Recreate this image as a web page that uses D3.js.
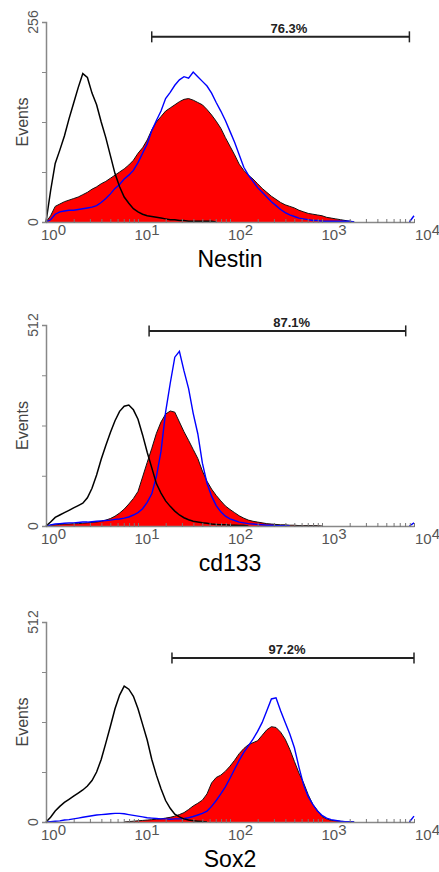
<!DOCTYPE html>
<html>
<head>
<meta charset="utf-8">
<title>Flow cytometry histograms</title>
<script src="https://cdn.jsdelivr.net/npm/d3@7"></script>
<style>
  body { margin: 0; background: #fff; }
  svg { display: block; font-family: Arial, "Liberation Sans", sans-serif; }
</style>
</head>
<body>
<svg></svg>
<script>
const WIDTH = 439;
const HEIGHT = 872;

// bins: 20 channels per decade, 10^0 .. 10^4
const channels = d3.range(81).map(i => Math.pow(10, i / 20));

const titles = ["Nestin", "cd133", "Sox2"];
const yMax = [256, 512, 512];
const decadeExp = ["0", "1", "2", "3", "4"];

// gate markers (fluorescence from / to, height in events, label position)
const gateLabels = ["76.3%", "87.1%", "97.2%"];
const gateFrom = [14.1, 13.2, 23.4];
const gateTo = [8913, 8128, 10000];
const gateLevel = [237, 497, 420];
const gateTextAt = [437, 468, 417];

// event counts per channel
const nestinControl = [0, 40, 75, 92, 110, 132, 152, 172, 190, 185, 165, 150, 128, 108, 85, 62, 45, 32, 24, 17,
  13, 10, 8, 7, 6, 5, 4, 3, 3, 2, 2, 1, 1, 1, 1, 1, 1, 0, 0, 0,
  0, 0, 0, 0, 0, 0, 0, 0, 0, 0, 0, 0, 0, 0, 0, 0, 0, 0, 0, 0,
  0, 0, 0, 0, 0, 0, 0, 0, 0, 0, 0, 0, 0, 0, 0, 0, 0, 0, 0, 0, 0];
const nestinSample = [0, 8, 20, 23, 26, 28, 30, 32, 35, 38, 42, 45, 49, 52, 56, 60, 64, 68, 73, 79,
  88, 95, 105, 118, 128, 135, 142, 146, 150, 154, 157, 158, 156, 153, 150, 144, 137, 129, 120, 108,
  97, 86, 74, 66, 60, 55, 49, 43, 38, 33, 29, 25, 22, 20, 18, 15, 13, 11, 10, 9,
  8, 6, 5, 4, 3, 2, 1, 0, 0, 0, 0, 0, 0, 0, 0, 0, 0, 0, 0, 0, 0];
const nestinOverlay = [0, 3, 10, 13, 14, 15, 15, 16, 17, 18, 19, 21, 25, 30, 36, 43, 48, 55, 60, 66,
  76, 88, 100, 117, 130, 142, 158, 166, 175, 182, 186, 184, 192, 186, 180, 174, 165, 153, 142, 130,
  116, 102, 86, 70, 60, 52, 44, 38, 32, 26, 21, 16, 12, 9, 7, 5, 4, 3, 2, 2,
  1, 1, 1, 1, 1, 1, 1, 0, 0, 0, 0, 0, 0, 0, 0, 0, 0, 0, 0, 0, 8];

const cd133Control = [0, 10, 22, 28, 34, 40, 46, 52, 58, 72, 96, 130, 170, 205, 238, 268, 292, 305, 308, 296,
  272, 232, 188, 148, 108, 84, 64, 50, 38, 28, 21, 16, 12, 10, 8, 7, 5, 4, 3, 3,
  2, 2, 1, 1, 0, 0, 0, 0, 0, 0, 0, 0, 0, 0, 0, 0, 0, 0, 0, 0,
  0, 0, 0, 0, 0, 0, 0, 0, 0, 0, 0, 0, 0, 0, 0, 0, 0, 0, 0, 0, 0];
const cd133Sample = [0, 2, 3, 4, 5, 5, 6, 6, 7, 8, 9, 10, 12, 15, 19, 25, 33, 43, 56, 70,
  88, 125, 162, 198, 236, 265, 285, 293, 290, 265, 240, 218, 195, 172, 140, 114, 94, 78, 64, 51,
  42, 34, 26, 20, 15, 12, 10, 8, 6, 5, 4, 3, 3, 2, 2, 1, 1, 1, 1, 1,
  0, 0, 0, 0, 0, 0, 0, 0, 0, 0, 0, 0, 0, 0, 0, 0, 0, 0, 0, 0, 0];
const cd133Overlay = [0, 3, 5, 6, 7, 8, 8, 9, 10, 10, 11, 12, 13, 14, 15, 17, 18, 20, 23, 28,
  34, 44, 60, 82, 126, 190, 290, 363, 430, 445, 395, 350, 287, 235, 160, 109, 76, 52, 36, 25,
  18, 14, 10, 8, 6, 5, 4, 3, 2, 2, 1, 1, 1, 0, 0, 0, 0, 0, 0, 0,
  0, 0, 0, 0, 0, 0, 0, 0, 0, 0, 0, 0, 0, 0, 0, 0, 0, 0, 0, 0, 8];

const sox2Control = [0, 12, 28, 40, 50, 58, 66, 74, 82, 92, 106, 128, 160, 202, 245, 290, 325, 348, 340, 322,
  290, 250, 210, 160, 120, 85, 55, 35, 20, 13, 8, 5, 3, 2, 1, 0, 0, 0, 0, 0,
  0, 0, 0, 0, 0, 0, 0, 0, 0, 0, 0, 0, 0, 0, 0, 0, 0, 0, 0, 0,
  0, 0, 0, 0, 0, 0, 0, 0, 0, 0, 0, 0, 0, 0, 0, 0, 0, 0, 0, 0, 0];
const sox2Sample = [0, 0, 0, 0, 0, 0, 0, 0, 0, 0, 0, 0, 0, 0, 0, 0, 0, 0, 1, 2,
  3, 4, 5, 6, 7, 8, 10, 12, 15, 19, 24, 32, 41, 48, 56, 72, 100, 114, 120, 130,
  143, 158, 175, 188, 198, 203, 208, 222, 236, 244, 242, 230, 212, 186, 155, 125, 100, 70, 45, 30,
  14, 8, 4, 3, 2, 1, 1, 0, 0, 0, 0, 0, 0, 0, 0, 0, 0, 0, 0, 0, 0];
const sox2Overlay = [0, 1, 2, 3, 5, 6, 8, 10, 12, 14, 16, 18, 19, 20, 21, 22, 22, 21, 19, 17,
  15, 13, 11, 10, 9, 8, 8, 7, 8, 8, 9, 11, 14, 18, 22, 28, 40, 55, 72, 90,
  112, 135, 158, 178, 195, 212, 232, 255, 285, 315, 318, 285, 255, 225, 190, 140, 95, 65, 45, 28,
  17, 10, 6, 4, 2, 1, 1, 0, 0, 0, 0, 0, 0, 0, 0, 0, 0, 0, 0, 0, 15];

const controls = [nestinControl, cd133Control, sox2Control];
const samples = [nestinSample, cd133Sample, sox2Sample];
const overlays = [nestinOverlay, cd133Overlay, sox2Overlay];

// layout of the three panels
const left = 46, right = 414;
const tops = [22, 325, 622];
const bottoms = [222, 526, 822];

const svg = d3.select("svg")
    .attr("width", WIDTH)
    .attr("height", HEIGHT);

const x = d3.scaleLog()
    .domain([1, 10000])
    .range([left, right]);

// hide flat zero stretches so lines don't paint over the axis
function nonFlat(v) {
    return (d, i) => v[i] > 0 || v[i - 1] > 0 || v[i + 1] > 0;
}

titles.forEach((title, p) => {
    const y = d3.scaleLinear()
        .domain([0, yMax[p]])
        .range([bottoms[p], tops[p]]);

    const g = svg.append("g");

    const area = d3.area()
        .x((d, i) => x(channels[i]))
        .y0(y(0))
        .y1(d => y(d));

    const line = d3.line()
        .x((d, i) => x(channels[i]))
        .y(d => y(d));

    // stained sample, filled red with dark edge
    g.append("path")
        .attr("d", area(samples[p]))
        .attr("fill", "#ff0000");
    g.append("path")
        .attr("d", line.defined(nonFlat(samples[p]))(samples[p]))
        .attr("fill", "none")
        .attr("stroke", "#111")
        .attr("stroke-width", 1);

    g.append("path")
        .attr("d", line.defined(nonFlat(overlays[p]))(overlays[p]))
        .attr("fill", "none")
        .attr("stroke", "#0000ff")
        .attr("stroke-width", 1.4);

    g.append("path")
        .attr("d", line.defined(nonFlat(controls[p]))(controls[p]))
        .attr("fill", "none")
        .attr("stroke", "#000")
        .attr("stroke-width", 1.5);

    // y axis
    const yAxis = g.append("g")
        .attr("transform", `translate(${left},0)`)
        .call(d3.axisLeft(y)
            .tickValues(d3.range(0, yMax[p] + 1, yMax[p] / 4))
            .tickSize(4)
            .tickFormat(""));
    yAxis.select(".domain").attr("stroke", "#888").attr("stroke-width", 1.5);
    yAxis.selectAll(".tick line").attr("stroke", "#888");

    [0, yMax[p]].forEach(v => {
        g.append("text")
            .attr("transform", `translate(38,${y(v)}) rotate(-90)`)
            .attr("text-anchor", "middle")
            .attr("font-size", 14)
            .attr("fill", "#555")
            .text(v);
    });

    g.append("text")
        .attr("transform", `translate(28,${(tops[p] + bottoms[p]) / 2}) rotate(-90)`)
        .attr("text-anchor", "middle")
        .attr("font-size", 16)
        .attr("fill", "#444")
        .text("Events");

    // x axis with log minor ticks
    const xAxis = g.append("g")
        .attr("transform", `translate(0,${bottoms[p]})`)
        .call(d3.axisBottom(x)
            .tickValues(x.ticks())
            .tickSizeInner(-3)
            .tickSizeOuter(0)
            .tickFormat(""));
    xAxis.select(".domain").attr("stroke", "#888").attr("stroke-width", 1.5);
    xAxis.selectAll(".tick line").attr("stroke", "#777").attr("y2", -3).attr("y1", 1);

    decadeExp.forEach((e, i) => {
        const t = g.append("text")
            .attr("x", x(Math.pow(10, i)) - 5 + i * 1.5)
            .attr("y", bottoms[p] + 18)
            .attr("font-size", 15)
            .attr("fill", "#555");
        t.append("tspan").text("10");
        t.append("tspan").attr("dy", -5).text(e);
    });

    g.append("text")
        .attr("x", (left + right) / 2)
        .attr("y", bottoms[p] + 45)
        .attr("text-anchor", "middle")
        .attr("font-size", 23)
        .attr("fill", "#000")
        .text(title);

    // gate bar
    const gy = y(gateLevel[p]);
    const gx0 = x(gateFrom[p]), gx1 = x(gateTo[p]);
    g.append("line")
        .attr("x1", gx0).attr("x2", gx1)
        .attr("y1", gy).attr("y2", gy)
        .attr("stroke", "#222").attr("stroke-width", 2);
    [gx0, gx1].forEach(gx => {
        g.append("line")
            .attr("x1", gx).attr("x2", gx)
            .attr("y1", gy - 5.5).attr("y2", gy + 5.5)
            .attr("stroke", "#222").attr("stroke-width", 1.5);
    });
    g.append("text")
        .attr("x", x(gateTextAt[p]))
        .attr("y", gy - 4)
        .attr("text-anchor", "middle")
        .attr("font-size", 13)
        .attr("font-weight", "bold")
        .attr("fill", "#222")
        .text(gateLabels[p]);
});
</script>
</body>
</html>
